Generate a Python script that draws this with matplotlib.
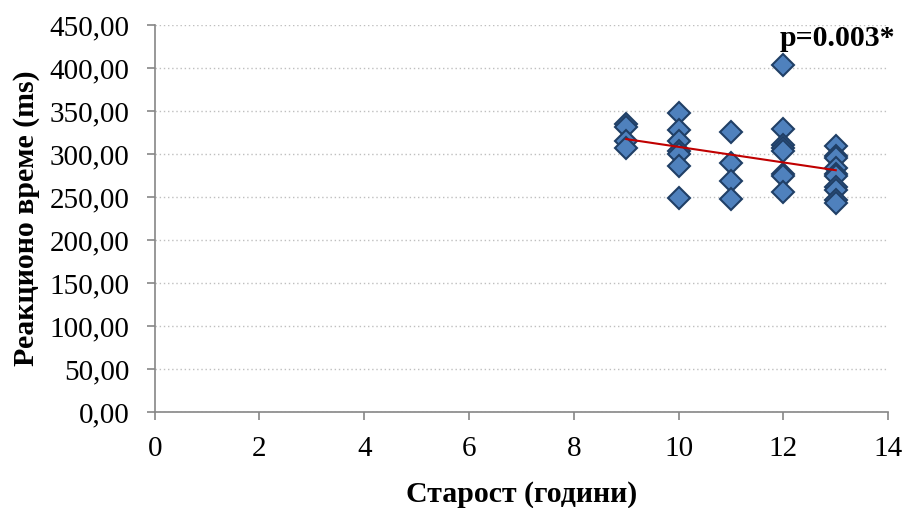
import numpy as np
import matplotlib.pyplot as plt
import matplotlib.ticker as mticker

plt.rcParams['font.family'] = ['Liberation Serif', 'DejaVu Serif']

# reaction time (ms) per age group (years)
age_9 = [335, 331, 315, 307]
age_10 = [348, 328, 315, 303, 300, 286, 249]
age_11 = [326, 289, 269, 248]
age_12 = [403, 329, 310, 307, 303, 277, 274, 256]
age_13 = [309, 298, 295, 284, 277, 274, 262, 258, 246, 243]
groups = {9: age_9, 10: age_10, 11: age_11, 12: age_12, 13: age_13}

age = np.concatenate([[k] * len(v) for k, v in groups.items()]).astype(float)
rt = np.concatenate([v for v in groups.values()]).astype(float)

x_ticks = [0, 2, 4, 6, 8, 10, 12, 14]
y_ticks = [0, 50, 100, 150, 200, 250, 300, 350, 400, 450]
p_label = 'p=0.003*'

fig = plt.figure(figsize=(9.1, 5.08), dpi=100)
ax = fig.add_axes([0.170, 0.189, 0.806, 0.762])

ax.yaxis.grid(True, linestyle=(0, (1, 2)), color='#BFBFBF', linewidth=1)
ax.set_axisbelow(True)

ax.plot(age, rt, linestyle='none', marker='D', ms=11,
        markerfacecolor='#4F81BD', markeredgecolor='#203F66',
        markeredgewidth=1.5, zorder=3)

# linear trend over the age range
slope, intercept = np.polyfit(age, rt, 1)
xs = np.array([age.min(), age.max()])
ax.plot(xs, intercept + slope * xs, color='#C00000', linewidth=1.5, zorder=4)

ax.set_xlim(0, 14)
ax.set_ylim(0, 450)
ax.set_xticks(x_ticks)
ax.set_yticks(y_ticks)
ax.yaxis.set_major_formatter(
    mticker.FuncFormatter(lambda v, p: f'{v:.2f}'.replace('.', ',')))

for side in ['top', 'right']:
    ax.spines[side].set_visible(False)
for side in ['left', 'bottom']:
    ax.spines[side].set_color('#868686')
    ax.spines[side].set_linewidth(1.2)
ax.tick_params(axis='both', direction='out', length=6, width=1.2,
               color='#868686', labelsize=21)
ax.tick_params(axis='y', pad=12)
ax.tick_params(axis='x', pad=11)

ax.set_xlabel('Старост (години)', fontsize=21.5, fontweight='bold', labelpad=14)
ax.set_ylabel('Реакционо време (ms)', fontsize=21.5, fontweight='bold',
              labelpad=7)

ax.text(1.01, 1.0, p_label, transform=ax.transAxes, ha='right', va='top',
        fontsize=21.5, fontweight='bold')

fig.savefig('out.png', dpi=100)
